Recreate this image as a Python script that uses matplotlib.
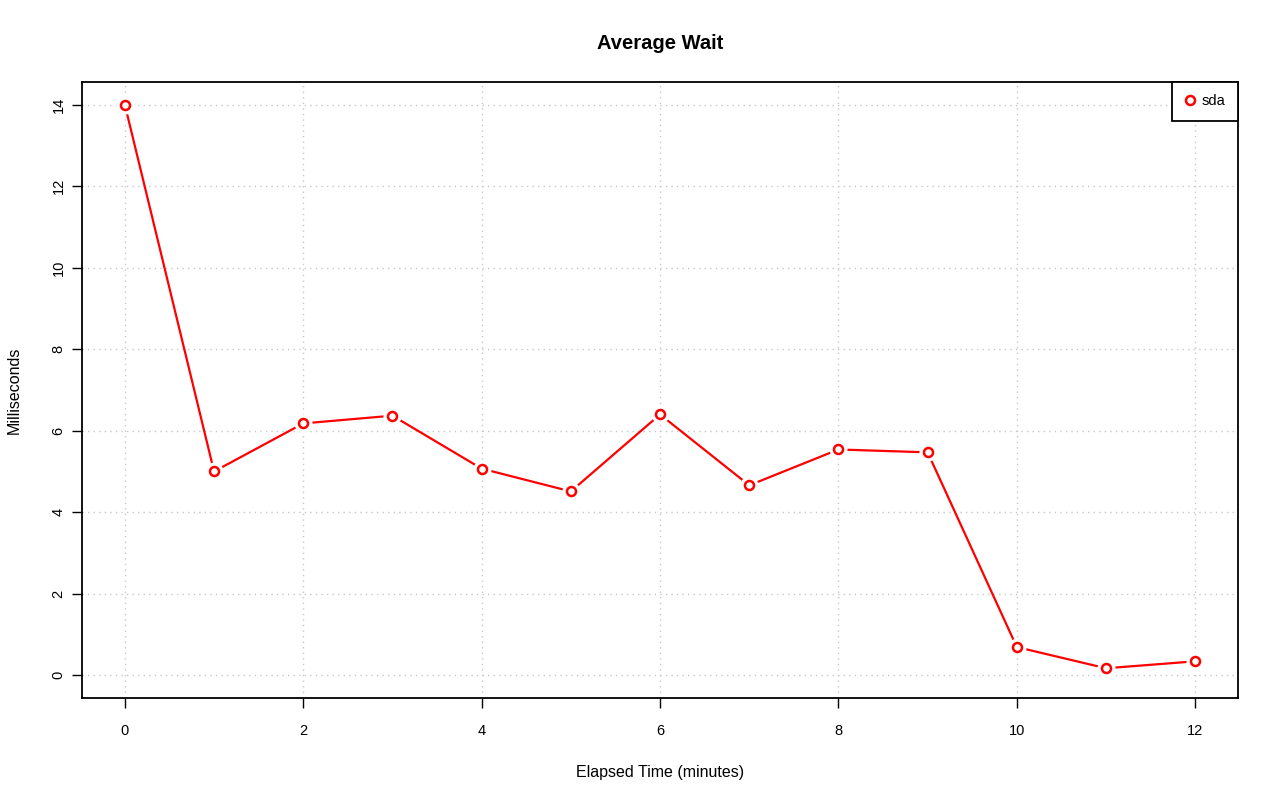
import matplotlib
matplotlib.use("Agg")
import matplotlib.pyplot as plt

plt.rcParams['font.family'] = ['Liberation Sans', 'DejaVu Sans']

minutes = [0, 1, 2, 3, 4, 5, 6, 7, 8, 9, 10, 11, 12]
wait_ms = [14.0, 5.0, 6.18, 6.37, 5.07, 4.51, 6.40, 4.66, 5.54, 5.47, 0.69, 0.17, 0.34]
x_ticks = [0, 2, 4, 6, 8, 10, 12]
y_ticks = [0, 2, 4, 6, 8, 10, 12, 14]

fig = plt.figure(figsize=(12.8, 8.01), dpi=100)
ax = fig.add_axes([0.0641, 0.1286, 0.9031, 0.769])

ax.grid(True, color='#c8c8c8', linestyle=(0, (1, 3)), linewidth=1)
ax.set_axisbelow(True)

# line with gaps around points, like R type="b"
ax.plot(minutes, wait_ms, color='red', linewidth=1.6, zorder=2)
ax.plot(minutes, wait_ms, linestyle='none', marker='o', markersize=12,
        markerfacecolor='white', markeredgecolor='white', zorder=3)
ax.plot(minutes, wait_ms, linestyle='none', marker='o', markersize=6.5,
        markerfacecolor='white', markeredgecolor='red', markeredgewidth=1.8,
        zorder=4, label='sda')

ax.set_xlim(-0.48, 12.48)
ax.set_ylim(-0.56, 14.56)
ax.set_xticks(x_ticks)
ax.set_yticks(y_ticks)
ax.tick_params(direction='out', length=7, width=1, labelsize=10.5, colors='black')
ax.tick_params(axis='x', pad=12)
ax.tick_params(axis='y', pad=5)
for lab in ax.get_yticklabels():
    lab.set_rotation(90)
    lab.set_va('center')
for sp in ax.spines.values():
    sp.set_linewidth(1.3)

ax.set_xlabel('Elapsed Time (minutes)', fontsize=11.5, labelpad=19)
ax.set_ylabel('Milliseconds', fontsize=11.5, labelpad=21)
# title centred over the plot area, as R does
fig.text(0.5156, 0.957, 'Average Wait', fontsize=14.5, fontweight='bold',
         ha='center', va='top')

leg = ax.legend(loc='upper right', borderaxespad=0, fancybox=False, framealpha=1,
                fontsize=10.5, handlelength=0.8, handletextpad=0.4, borderpad=0.85)
leg.get_frame().set_edgecolor('black')
leg.get_frame().set_linewidth(1.3)

fig.savefig('out.png', dpi=100)
